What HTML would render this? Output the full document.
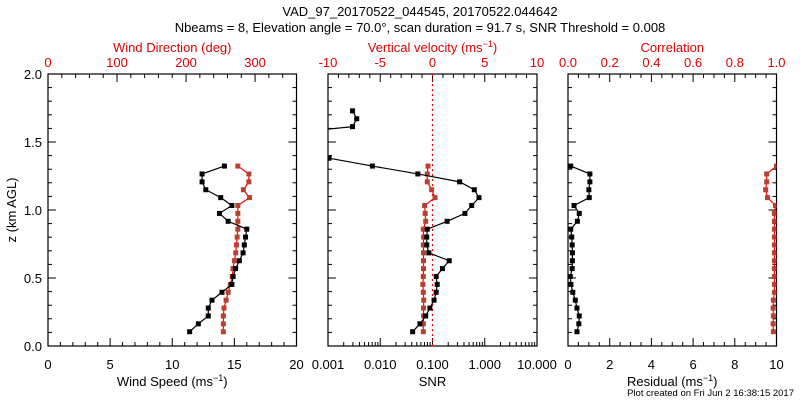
<!DOCTYPE html>
<html><head><meta charset="utf-8">
<style>
html,body{margin:0;padding:0;background:#fff;}
svg{display:block;font-family:"Liberation Sans",sans-serif;}
</style></head>
<body>
<svg id="chart" width="800" height="400" viewBox="0 0 800 400" xmlns="http://www.w3.org/2000/svg">
<text x="420" y="16" font-size="13" text-anchor="middle">VAD_97_20170522_044545, 20170522.044642</text>
<text x="420" y="32" font-size="13" text-anchor="middle">Nbeams = 8, Elevation angle = 70.0°, scan duration = 91.7 s, SNR Threshold = 0.008</text>
<text x="794" y="396" font-size="9.5" text-anchor="end">Plot created on Fri Jun  2 16:38:15 2017</text>
<g id="plots"></g>
</svg>
<script>
// heights (km AGL), index 0 = lowest
const heights = [0.105,0.163,0.221,0.279,0.337,0.395,0.453,0.511,0.569,0.627,0.685,0.743,0.801,0.859,0.917,0.975,1.033,1.091,1.149,1.207,1.265,1.323,1.381,1.439,1.497,1.555,1.613,1.671,1.729];
const windSpeed = [11.4,12.1,12.9,12.9,13.2,14.0,14.8,14.9,15.1,15.4,15.7,15.8,15.9,16.0,14.5,13.8,14.8,13.9,12.7,12.4,12.4,14.2];
const windDir = [254,254,254,255,258,261,264,267,268,270,272,273,274,275,275,275,275,292,283,291,291,275];
const snr = [-1.38,-1.24,-1.13,-1.05,-0.97,-0.93,-0.91,-0.93,-0.81,-0.68,-1.07,-1.11,-1.11,-1.10,-0.72,-0.38,-0.25,-0.11,-0.20,-0.48,-1.28,-2.15,-2.98,-4,-4,-4,-2.53,-2.45,-2.53];
const wVel = [-0.88,-0.88,-0.85,-0.86,-0.84,-0.88,-0.92,-0.88,-0.86,-0.86,-0.86,-0.88,-0.85,-0.88,-0.65,-0.7,-0.75,0.24,-0.08,-0.5,-0.5,-0.43];
const residual = [0.43,0.52,0.54,0.43,0.35,0.23,0.14,0.11,0.2,0.21,0.21,0.2,0.18,0.13,0.45,0.54,0.29,1.02,1.0,1.05,1.05,0.13];
const corr = [0.985,0.984,0.985,0.984,0.985,0.99,0.99,0.99,0.99,0.99,0.99,0.99,0.99,0.99,0.99,0.99,0.995,0.957,0.948,0.953,0.953,1.0];

const NS="http://www.w3.org/2000/svg";
const root=document.getElementById('plots');
const Y0=346,Y1=74;
function yS(z){return Y0-(z-0)/(2-0)*(Y0-Y1);}
function el(t,a,p){const e=document.createElementNS(NS,t);for(const k in a)e.setAttribute(k,a[k]);(p||root).appendChild(e);return e;}

function panel(name,x0,x1,bot,top,showY,clipId){
  const g=el('g',{});
  
  
  const fr=el('rect',{x:x0,y:Y1,width:x1-x0,height:Y0-Y1,fill:'none',stroke:'#000','stroke-width':1.2},g);
  
  
  const cp=el('clipPath',{id:clipId},g);el('rect',{x:x0,y:Y1,width:x1-x0,height:Y0-Y1},cp);
  // y ticks
  for(let k=0;k<=20;k++){const z=k*0.1,y=yS(z),L=(k%5==0)?8:4;
    el('line',{x1:x0,x2:x0+L,y1:y,y2:y,stroke:'#000'},g);el('line',{x1:x1,x2:x1-L,y1:y,y2:y,stroke:'#000'},g);
    if(showY&&k%5==0){const t=el('text',{x:x0-6,y:y+5,'font-size':13,'text-anchor':'end'},g);t.textContent=z.toFixed(1);
      
      }
  }
  // bottom axis
  bot.ticks.forEach(tk=>{const x=bot.f(tk.v),L=tk.major?8:4;el('line',{x1:x,x2:x,y1:Y0,y2:Y0-L,stroke:'#000'},g);
    if(tk.label!=null){const t=el('text',{x:x,y:369,'font-size':13,'text-anchor':'middle'},g);t.textContent=tk.label;
      
      }});
  const bt=el('text',{x:(x0+x1)/2,y:386,'font-size':13,'text-anchor':'middle'},g);
  
  
  bt.innerHTML=bot.title;
  top.ticks.forEach(tk=>{const x=top.f(tk.v),L=tk.major?8:4;el('line',{x1:x,x2:x,y1:Y1,y2:Y1+L,stroke:'#000'},g);
    if(tk.label!=null){const t=el('text',{x:x,y:67,'font-size':13,'text-anchor':'middle',fill:'#e00000'},g);t.textContent=tk.label;
      
      }});
  const tt=el('text',{x:(x0+x1)/2,y:52,'font-size':13,'text-anchor':'middle',fill:'#e00000'},g);
  
  
  tt.innerHTML=top.title;
  return g;
}
function series(g,name,vals,fx,lineCol,markCol,clipId){
  const pts=vals.map((v,i)=>[fx(v),yS(heights[i])]);
  const sg=el('g',{'clip-path':'url(#'+clipId+')'},g);
  
  
  el('polyline',{points:pts.map(p=>p.join(',')).join(' '),fill:'none',stroke:lineCol,'stroke-width':1.2},sg);
  pts.forEach(p=>{const m=el('rect',{x:p[0]-2.5,y:p[1]-2.5,width:5,height:5,fill:markCol},sg);
    
    });
}
function linTicks(a,b,minorStep,majorStep,fmt){const r=[];const n=Math.round((b-a)/minorStep);
  for(let k=0;k<=n;k++){const v=a+k*minorStep;const maj=Math.abs(v/majorStep-Math.round(v/majorStep))<1e-6;r.push({v:v,major:maj,label:maj?fmt(v):null});}return r;}

// Panel 1
{const x0=48,x1=296.5;
 const fs=v=>x0+v/20*(x1-x0), fd=v=>x0+v/360*(x1-x0);
 const g=panel('wind-panel',x0,x1,{f:fs,ticks:linTicks(0,20,1,5,v=>String(v)),title:'Wind Speed (ms<tspan baseline-shift="super" font-size="9">−1</tspan>)'},
   {f:fd,ticks:linTicks(0,360,20,100,v=>String(v)),title:'Wind Direction (deg)'},true,'c1');
 series(g,'wind-direction-series',windDir,fd,'#ff0000','#b84030','c1');
 series(g,'wind-speed-series',windSpeed,fs,'#000','#000','c1');
 const yt=el('text',{x:16,y:210,'font-size':13,'text-anchor':'middle',transform:'rotate(-90 16 210)'});
 
 
 yt.textContent='z (km AGL)';}
// Panel 2
{const x0=328,x1=537;
 const fl=v=>x0+(v+3)/4*(x1-x0), fw=v=>x0+(v+10)/20*(x1-x0);
 const bt=[];const labs=['0.001','0.010','0.100','1.000','10.000'];
 for(let d=0;d<=4;d++){bt.push({v:d-3,major:true,label:labs[d]});if(d<4)for(let m=2;m<=9;m++)bt.push({v:d-3+Math.log10(m),major:false,label:null});}
 const g=panel('snr-panel',x0,x1,{f:fl,ticks:bt,title:'SNR'},
   {f:fw,ticks:linTicks(-10,10,1,5,v=>String(v)),title:'Vertical velocity (ms<tspan baseline-shift="super" font-size="9">−1</tspan>)'},false,'c2');
 const th=el('line',{x1:fl(-1),x2:fl(-1),y1:Y1,y2:Y0,stroke:'#ff0000','stroke-dasharray':'2,3','stroke-width':1.2},g);
 
 
 series(g,'vertical-velocity-series',wVel,fw,'#ff0000','#b84030','c2');
 series(g,'snr-series',snr,fl,'#000','#000','c2');}
// Panel 3
{const x0=568,x1=776.5;
 const fr=v=>x0+v/10*(x1-x0), fc=v=>x0+v*(x1-x0);
 const g=panel('residual-panel',x0,x1,{f:fr,ticks:linTicks(0,10,0.5,2,v=>String(Math.round(v))),title:'Residual (ms<tspan baseline-shift="super" font-size="9">−1</tspan>)'},
   {f:fc,ticks:linTicks(0,1,0.05,0.2,v=>v.toFixed(1)),title:'Correlation'},false,'c3');
 series(g,'correlation-series',corr,fc,'#ff0000','#b84030','c3');
 series(g,'residual-series',residual,fr,'#000','#000','c3');}
</script>
</body></html>
